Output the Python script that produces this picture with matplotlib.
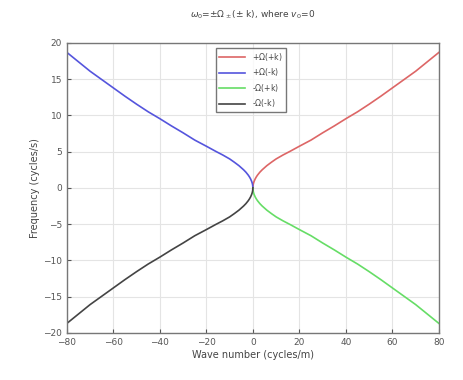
import numpy as np
import matplotlib.pyplot as plt

# Dispersion branches read per wave number (cycles/m) -> frequency (cycles/s)
k_pos = np.array([0, 0.1, 0.25, 0.5, 1, 1.5, 2, 3, 4, 6, 8, 10, 13, 16, 20,
                  25, 30, 35, 40, 45, 50, 55, 60, 65, 70, 75, 80])
omega_pos = np.array([0, 0.40, 0.62, 0.88, 1.25, 1.53, 1.77, 2.17, 2.50, 3.07,
                      3.55, 4.00, 4.55, 5.05, 5.75, 6.60, 7.60, 8.55, 9.55,
                      10.5, 11.55, 12.65, 13.8, 14.95, 16.1, 17.4, 18.7])

k_neg = -k_pos
omega_neg = omega_pos

labels = [r'+$\Omega$(+k)', r'+$\Omega$(-k)', r'-$\Omega$(+k)', r'-$\Omega$(-k)']
colors = ['#dd6666', '#5555dd', '#66dd66', '#444444']

plt.rcParams['font.family'] = 'DejaVu Sans'
fig = plt.figure(figsize=(4.64, 3.80), dpi=100)
ax = fig.add_axes([0.144, 0.124, 0.802, 0.763])

ax.plot(k_pos, omega_pos, color=colors[0], lw=1.2, label=labels[0])
ax.plot(k_neg, omega_neg, color=colors[1], lw=1.2, label=labels[1])
ax.plot(k_pos, -omega_pos, color=colors[2], lw=1.2, label=labels[2])
ax.plot(k_neg, -omega_neg, color=colors[3], lw=1.2, label=labels[3])

ax.set_xlim(-80, 80)
ax.set_ylim(-20, 20)
ax.set_xticks(np.arange(-80, 81, 20))
ax.set_yticks(np.arange(-20, 21, 5))
ax.grid(True, color='#e4e4e4', lw=0.8)
ax.tick_params(direction='in', labelsize=6.5, colors='#555555', length=3)
for sp in ax.spines.values():
    sp.set_color('#777777')
    sp.set_linewidth(1.0)

ax.set_xlabel('Wave number (cycles/m)', fontsize=7, color='#444444', labelpad=2)
ax.set_ylabel('Frequency (cycles/s)', fontsize=7, color='#444444', labelpad=2)
ax.set_title(r'$\omega_0$=$\pm\Omega_\pm$($\pm$ k), where $v_0$=0',
             fontsize=6.5, color='#444444', pad=18)

leg = ax.legend(loc='upper left', bbox_to_anchor=(0.39, 0.997), fontsize=5.6,
                frameon=True, fancybox=False, edgecolor='#555555',
                handlelength=3.4, borderpad=0.4, labelspacing=0.45)
leg.get_frame().set_linewidth(1.0)
for t in leg.get_texts():
    t.set_color('#444444')

fig.savefig('out.png', dpi=100)
